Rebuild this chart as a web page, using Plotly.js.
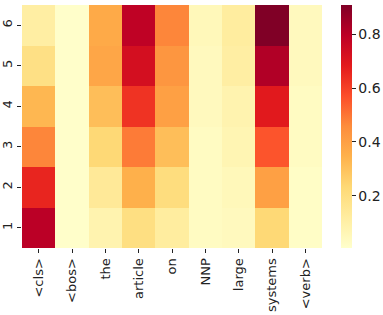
<!DOCTYPE html>
<html><head><meta charset="utf-8">
<script src="https://cdn.plot.ly/plotly-3.0.1.min.js"></script>
<style>html,body{margin:0;padding:0;background:#fff}</style>
</head><body><div id="chart" style="width:383px;height:315px"></div>
<script>
const tokens = ["<cls>", "<bos>", "the", "article", "on", "NNP", "large", "systems", "<verb>"];
const rows = ["1", "2", "3", "4", "5", "6"];
const row1 = [0.80, 0.01, 0.08, 0.20, 0.12, 0.03, 0.04, 0.23, 0.02];
const row2 = [0.66, 0.01, 0.14, 0.35, 0.21, 0.03, 0.05, 0.40, 0.02];
const row3 = [0.47, 0.01, 0.23, 0.49, 0.31, 0.03, 0.07, 0.56, 0.03];
const row4 = [0.33, 0.01, 0.31, 0.63, 0.40, 0.04, 0.08, 0.69, 0.03];
const row5 = [0.19, 0.01, 0.38, 0.73, 0.43, 0.04, 0.11, 0.82, 0.04];
const row6 = [0.11, 0.01, 0.37, 0.79, 0.47, 0.05, 0.12, 0.91, 0.04];
const ylorrd = [[0,"#ffffcc"],[0.125,"#ffeda0"],[0.25,"#fed976"],[0.375,"#feb24c"],[0.5,"#fd8d3c"],[0.625,"#fc4e2a"],[0.75,"#e31a1c"],[0.875,"#bd0026"],[1,"#800026"]];
const font = {family: "DejaVu Sans", size: 13, color: "#222"};
const trace = {
  type: "heatmap",
  x: tokens.map((t,i)=>i),
  y: rows,
  z: [row1,row2,row3,row4,row5,row6],
  colorscale: ylorrd,
  zmin: 0.005, zmax: 0.91,
  hoverinfo: "skip",
  colorbar: {
    x: 1.063, xanchor: "left", xpad: 0, y: 0.5, yanchor: "middle", ypad: 0, len: 1, lenmode: "fraction",
    thickness: 11, outlinewidth: 0,
    tickvals: [0.2,0.4,0.6,0.8], ticktext: ["0.2","0.4","0.6","0.8"],
    ticks: "outside", ticklen: 4, tickcolor: "#222", tickfont: {family: "DejaVu Sans", size: 14, color: "#222"}
  }
};
const layout = {
  width: 383, height: 315,
  margin: {l: 22, r: 61, t: 5, b: 67, autoexpand: false},
  paper_bgcolor: "#fff", plot_bgcolor: "#fff",
  font: font,
  xaxis: {
    tickmode: "array", tickvals: tokens.map((t,i)=>i), ticktext: tokens.map(t=>t.replace(/</g,"&lt;").replace(/>/g,"&gt;")),
    tickangle: -90, ticks: "outside", ticklen: 4, tickcolor: "#222",
    showgrid: false, zeroline: false, showline: false, tickfont: font, automargin: false
  },
  yaxis: {
    type: "category", tickangle: -90, ticks: "outside", ticklen: 4, tickcolor: "#222",
    showgrid: false, zeroline: false, showline: false, tickfont: font, automargin: false
  }
};
Plotly.newPlot("chart", [trace], layout, {displayModeBar: false, staticPlot: true});
</script></body></html>
